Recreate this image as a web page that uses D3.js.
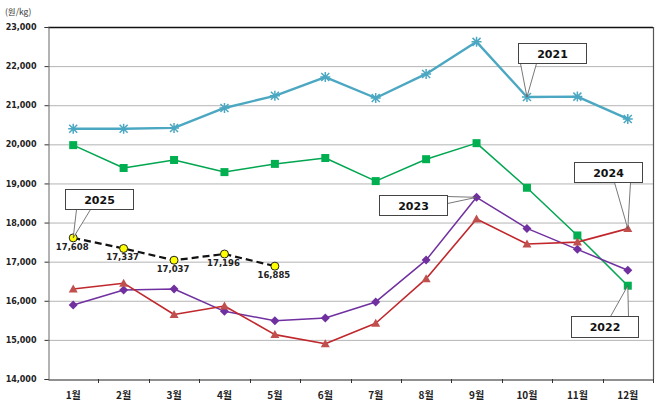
<!DOCTYPE html>
<html>
<head>
<meta charset="utf-8">
<script src="https://cdn.jsdelivr.net/npm/d3@7"></script>
<style>
html,body{margin:0;padding:0;background:#fff;}
svg{display:block;}
</style>
</head>
<body>
<svg id="chart" width="658" height="404"></svg>
<script>
// ---- data ----
const months = ["1월","2월","3월","4월","5월","6월","7월","8월","9월","10월","11월","12월"];
const yTicks = [14000,15000,16000,17000,18000,19000,20000,21000,22000,23000];
const s2021 = [20400,20400,20420,20930,21240,21720,21185,21800,22620,21210,21220,20650];
const s2022 = [19980,19395,19600,19290,19500,19650,19060,19620,20030,18890,17670,16385];
const s2023 = [15890,16275,16300,15730,15490,15560,15970,17040,18645,17850,17315,16780];
const s2024 = [16300,16450,15650,15865,15135,14900,15425,16565,18090,17450,17500,17845];
const s2025 = [17608,17337,17037,17196,16885];
const unitLabel = "(원/kg)";

const svg = d3.select("#chart");
const L = 48, R = 653, T = 27, B = 379;

const x = d3.scaleBand().domain(months).range([L, R]).padding(0);
const cx = m => x(m) + x.bandwidth() / 2;
const y = d3.scaleLinear().domain([14000, 23000]).range([B, T]);

// gridlines
svg.append("g").selectAll("line").data(yTicks.filter(v => v > 14000 && v < 23000)).join("line")
  .attr("x1", L).attr("x2", R).attr("y1", d => y(d) + 0.5).attr("y2", d => y(d) + 0.5)
  .attr("stroke", "#b4b4b4").attr("stroke-width", 1);

// top & right border
svg.append("line").attr("x1", L).attr("x2", R).attr("y1", T + 0.5).attr("y2", T + 0.5).attr("stroke", "#111").attr("stroke-width", 1.3);
svg.append("line").attr("x1", R + 0.5).attr("x2", R + 0.5).attr("y1", T).attr("y2", B).attr("stroke", "#555").attr("stroke-width", 1.2);

// y axis
const yAxis = d3.axisLeft(y).tickValues(yTicks).tickFormat(d3.format(",")).tickSize(4).tickPadding(8);
const gy = svg.append("g").attr("transform", `translate(${L + 0.5},0)`).call(yAxis);
gy.select(".domain").attr("stroke", "#666");
gy.selectAll(".tick line").attr("stroke", "#333");
gy.selectAll(".tick text").attr("font-family", "DejaVu Sans, sans-serif").attr("font-weight", "bold")
  .attr("font-size", "8px").attr("fill", "#222");

// x axis
const xAxis = d3.axisBottom(x).tickSize(0).tickPadding(12);
const gx = svg.append("g").attr("transform", `translate(0,${B + 0.5})`).call(xAxis);
gx.select(".domain").attr("stroke", "#222").attr("stroke-width", 1.2);
gx.selectAll(".tick text").attr("font-family", "Noto Sans CJK KR, sans-serif").attr("font-weight", "bold")
  .attr("font-size", "10px").attr("fill", "#222");
// boundary ticks
svg.append("g").selectAll("line").data(months.slice(1).concat(["end"])).join("line")
  .attr("x1", d => d === "end" ? R + 0.5 : Math.round(x(d)) + 0.5)
  .attr("x2", d => d === "end" ? R + 0.5 : Math.round(x(d)) + 0.5)
  .attr("y1", B).attr("y2", B + 4).attr("stroke", "#333");

// unit label
svg.append("text").attr("x", 5).attr("y", 14.5).attr("font-family", "Noto Sans CJK KR, sans-serif")
  .attr("font-size", "8.5px").attr("fill", "#333").text(unitLabel);

const line = d3.line().x((d, i) => cx(months[i])).y(d => y(d));

function drawSeries(data, color, width, dash) {
  svg.append("path").datum(data).attr("d", line).attr("fill", "none")
    .attr("stroke", color).attr("stroke-width", width)
    .attr("stroke-dasharray", dash || null).attr("stroke-linejoin", "round");
}

// 2021
drawSeries(s2021, "#4ba7c2", 2.4);
svg.append("g").selectAll("path").data(s2021).join("path")
  .attr("transform", (d, i) => `translate(${cx(months[i])},${y(d)})`)
  .attr("d", "M-4,-4L4,4M-4,4L4,-4M0,-5L0,5M-5,0L5,0")
  .attr("stroke", "#4ba7c2").attr("stroke-width", 1.5).attr("fill", "none");

// 2022
drawSeries(s2022, "#00a650", 1.5);
svg.append("g").selectAll("rect").data(s2022).join("rect")
  .attr("x", (d, i) => cx(months[i]) - 4).attr("y", d => y(d) - 4)
  .attr("width", 8).attr("height", 8).attr("fill", "#00b050");

// 2023
drawSeries(s2023, "#7030a0", 1.5);
svg.append("g").selectAll("path").data(s2023).join("path")
  .attr("transform", (d, i) => `translate(${cx(months[i])},${y(d)})`)
  .attr("d", "M0,-4.5L4.5,0L0,4.5L-4.5,0Z").attr("fill", "#7030a0");

// 2024
drawSeries(s2024, "#c0282d", 1.6);
svg.append("g").selectAll("path").data(s2024).join("path")
  .attr("transform", (d, i) => `translate(${cx(months[i])},${y(d)})`)
  .attr("d", "M0,-4.5L4.5,3.5L-4.5,3.5Z").attr("fill", "#c0504d");

// 2025
drawSeries(s2025, "#111", 2.2, "7,4");
svg.append("g").selectAll("circle").data(s2025).join("circle")
  .attr("cx", (d, i) => cx(months[i])).attr("cy", d => y(d)).attr("r", 4)
  .attr("fill", "#ffff00").attr("stroke", "#222").attr("stroke-width", 1);
svg.append("g").selectAll("text").data(s2025).join("text")
  .attr("x", (d, i) => cx(months[i]) - 1).attr("y", d => y(d) + 12)
  .attr("text-anchor", "middle").attr("font-family", "DejaVu Sans, sans-serif")
  .attr("font-weight", "bold").attr("font-size", "8.5px").attr("fill", "#222")
  .text(d => d3.format(",")(d));

// callouts
const callouts = [
  {label: "2025", data: s2025, idx: 0, bx: -8, by: -49, w: 68, h: 20, side: "bottom", a: 11, b: 25},
  {label: "2021", data: s2021, idx: 9, bx: -9, by: -54, w: 68, h: 20, side: "bottom", a: 2, b: 18},
  {label: "2024", data: s2024, idx: 11, bx: -54, by: -67, w: 68, h: 20, side: "bottom", a: 40, b: 56},
  {label: "2023", data: s2023, idx: 8, bx: -98, by: -2.5, w: 68, h: 20, side: "right", a: 1, b: 8},
  {label: "2022", data: s2022, idx: 11, bx: -57, by: 30, w: 67, h: 21, side: "top", a: 39, b: 57}
];
callouts.forEach(c => {
  const px = cx(months[c.idx]), py = y(c.data[c.idx]);
  const x0 = Math.round(px + c.bx) + 0.5, y0 = Math.round(py + c.by) + 0.5;
  let p1, p2;
  if (c.side === "bottom") { p1 = [x0 + c.a, y0 + c.h]; p2 = [x0 + c.b, y0 + c.h]; }
  else if (c.side === "top") { p1 = [x0 + c.a, y0]; p2 = [x0 + c.b, y0]; }
  else { p1 = [x0 + c.w, y0 + c.a]; p2 = [x0 + c.w, y0 + c.b]; }
  svg.append("path").attr("d", `M${p1[0]},${p1[1]}L${px},${py}L${p2[0]},${p2[1]}`)
    .attr("fill", "#fff").attr("stroke", "#555").attr("stroke-width", 0.8);
  svg.append("rect").attr("x", x0).attr("y", y0).attr("width", c.w).attr("height", c.h)
    .attr("fill", "#fff").attr("stroke", "#444").attr("stroke-width", 1);
  svg.append("text").attr("x", x0 + c.w / 2).attr("y", y0 + c.h / 2 + 4)
    .attr("text-anchor", "middle").attr("font-family", "DejaVu Sans, sans-serif")
    .attr("font-weight", "bold").attr("font-size", "11px").attr("fill", "#111").text(c.label);
});
</script>
</body>
</html>
